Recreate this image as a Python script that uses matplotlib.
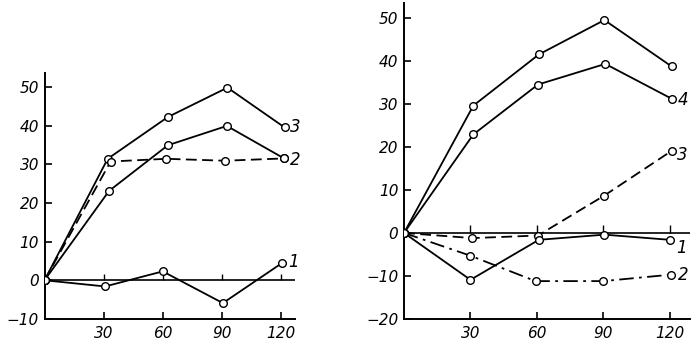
import matplotlib.pyplot as plt
import numpy as np

plt.rcParams["font.family"] = "DejaVu Sans"
plt.rcParams["font.style"] = "italic"
plt.rcParams["font.size"] = 11

# left panel data
left_x3 = [0, 32, 62.5, 92.7, 121.7]
left_y3 = [0, 31.4, 42.2, 49.8, 39.5]
left_x2s = [0, 32.7, 62.5, 92.4, 121.4]
left_y2s = [0, 23.1, 34.9, 39.9, 31.5]
left_x2d = [0, 33.5, 61.7, 91.5, 121.4]
left_y2d = [0, 30.7, 31.4, 30.9, 31.5]
left_x1 = [0, 30.7, 59.9, 90.4, 120.2]
left_y1 = [0, -1.6, 2.3, -5.9, 4.4]

# right panel data
right_xtop = [0, 31.3, 60.9, 90.5, 120.9]
right_ytop = [0, 29.6, 41.5, 49.5, 38.7]
right_x4 = [0, 31.3, 60.5, 90.9, 120.9]
right_y4 = [0, 22.9, 34.5, 39.3, 31.2]
right_x3 = [0, 30.9, 60.5, 90.5, 120.9]
right_y3 = [0, -1.2, -0.6, 8.7, 19.1]
right_x1 = [0, 30.0, 60.9, 90.5, 120.0]
right_y1 = [0, -10.9, -1.6, -0.4, -1.6]
right_x2 = [0, 30.0, 59.4, 90.0, 120.5]
right_y2 = [0, -5.3, -11.2, -11.2, -9.7]

xticks = [30, 60, 90, 120]
left_yticks = [-10, 0, 10, 20, 30, 40, 50]
right_yticks = [-20, -10, 0, 10, 20, 30, 40, 50]

fig = plt.figure(figsize=(6.96, 3.54), dpi=100)
axl = fig.add_axes([0.064, 0.099, 0.36, 0.695])
axr = fig.add_axes([0.5805, 0.099, 0.411, 0.893])

mk = dict(marker="o", markersize=5.5, markerfacecolor="white", markeredgecolor="black",
          markeredgewidth=1.0, color="black", lw=1.3)


def style(ax, ylim, xmax, yticks):
    ax.set_xlim(0, xmax)
    ax.set_ylim(*ylim)
    for s in ["top", "right"]:
        ax.spines[s].set_visible(False)
    for s in ["left", "bottom"]:
        ax.spines[s].set_linewidth(1.4)
    ax.set_xticks(xticks)
    ax.set_yticks(yticks)
    ax.set_yticklabels([str(v).replace("-", "\u2212") for v in yticks])
    ax.tick_params(axis="both", direction="in", length=5, width=1.2, labelsize=11)
    ax.tick_params(axis="x", pad=5)
    ax.tick_params(axis="y", pad=4)
    ax.axhline(0, color="black", lw=1.2, zorder=1)
    ax.vlines(xticks, 0, (ylim[1] - ylim[0]) * 0.025, color="black", lw=1.0)


style(axl, (-10, 53.6), 127, left_yticks)
style(axr, (-20, 53.5), 129.2, right_yticks)

axl.plot(left_x3, left_y3, **mk, zorder=3)
axl.plot(left_x2s, left_y2s, **mk, zorder=3)
axl.plot(left_x2d, left_y2d, **mk, ls=(0, (6, 3)), zorder=3)
axl.plot(left_x1, left_y1, **mk, zorder=3)
axl.text(124.5, 39.5, "3", va="center", ha="left", fontsize=12)
axl.text(124.5, 31.0, "2", va="center", ha="left", fontsize=12)
axl.text(123.5, 4.8, "1", va="center", ha="left", fontsize=12)

axr.plot(right_xtop, right_ytop, **mk, zorder=3)
axr.plot(right_x4, right_y4, **mk, zorder=3)
axr.plot(right_x3, right_y3, **mk, ls=(0, (6, 3)), zorder=3)
axr.plot(right_x1, right_y1, **mk, zorder=3)
axr.plot(right_x2, right_y2, **mk, ls=(0, (8, 3, 1.5, 3)), zorder=3)
axr.text(123.5, 31.0, "4", va="center", ha="left", fontsize=12)
axr.text(123.5, 18.2, "3", va="center", ha="left", fontsize=12)
axr.text(123.0, -3.5, "1", va="center", ha="left", fontsize=12)
axr.text(123.5, -9.7, "2", va="center", ha="left", fontsize=12)

fig.savefig("out.png", dpi=100)
